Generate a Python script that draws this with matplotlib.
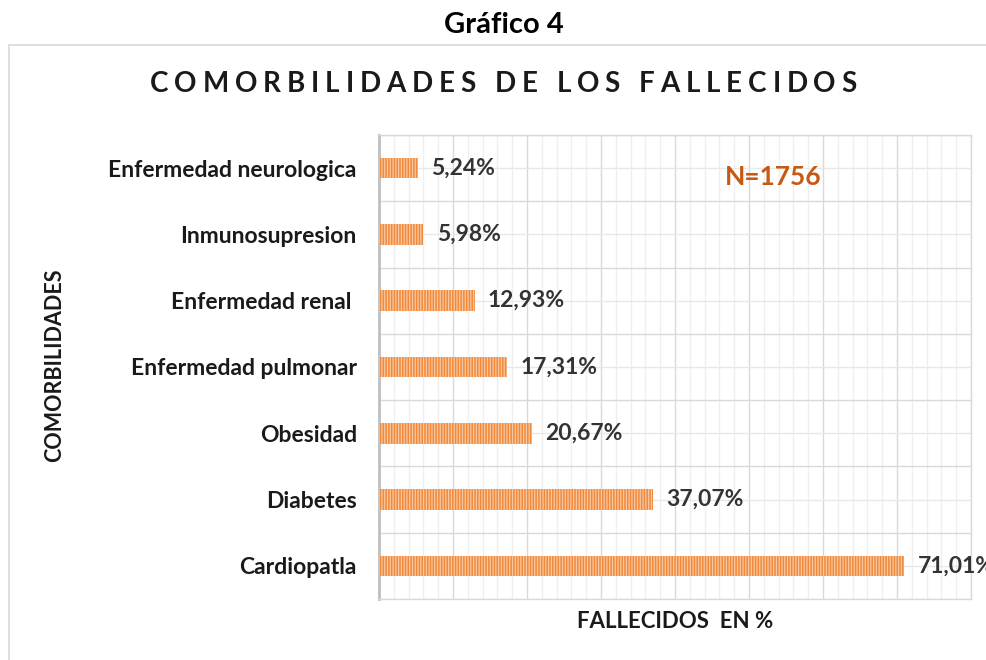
import numpy as np
import matplotlib.pyplot as plt
from matplotlib.patches import Rectangle
from matplotlib.ticker import MultipleLocator, FixedLocator

# data, bottom to top as in the chart
categories = ["Cardiopatla", "Diabetes", "Obesidad", "Enfermedad pulmonar",
              "Enfermedad renal ", "Inmunosupresion", "Enfermedad neurologica"]
values = [71.01, 37.07, 20.67, 17.31, 12.93, 5.98, 5.24]
value_labels = ["71,01%", "37,07%", "20,67%", "17,31%", "12,93%", "5,98%", "5,24%"]

plt.rcParams['font.family'] = ['Lato', 'DejaVu Sans']
plt.rcParams['hatch.linewidth'] = 0.9

fig = plt.figure(figsize=(9.87, 6.6), dpi=100)
ax = fig.add_axes([0.384, 0.0924, 0.5998, 0.7031])

# chart frame (runs off the right and bottom like the screenshot)
fig.patches.append(Rectangle((9/987, -0.1), 1.2, 1 - 45/660 + 0.1, transform=fig.transFigure,
                             fill=False, edgecolor='#D9D9D9', linewidth=1.2))

y = np.arange(len(categories))
ax.barh(y, values, height=0.31, color='#F08A3C', edgecolor='#F9C7A0', linewidth=0,
        hatch='||||||', zorder=3)

for yi, v, lab in zip(y, values, value_labels):
    ax.text(v + 1.8, yi, lab, va='center', ha='left', fontsize=16.5, fontweight='bold',
            color='#333333', zorder=4)

ax.set_xlim(0, 80)
ax.set_ylim(-0.5, len(categories) - 0.5)
ax.xaxis.set_major_locator(MultipleLocator(10))
ax.xaxis.set_minor_locator(MultipleLocator(2))
ax.set_yticks(y)
ax.set_yticklabels(categories, fontsize=16.5, fontweight='bold', color='#1a1a1a')
ax.yaxis.set_minor_locator(FixedLocator(np.arange(-0.5, len(categories), 1.0)))
ax.grid(which='major', axis='x', color='#D9D9D9', linewidth=1.0, zorder=0)
ax.grid(which='minor', axis='x', color='#EFEFEF', linewidth=0.9, zorder=0)
ax.grid(which='major', axis='y', color='#E8E8E8', linewidth=1.0, zorder=0)
ax.grid(which='minor', axis='y', color='#D9D9D9', linewidth=1.0, zorder=0)
ax.tick_params(which='both', length=0)
ax.tick_params(axis='y', pad=16)
ax.set_xticklabels([])
for s in ['top', 'right', 'bottom']:
    ax.spines[s].set_color('#D9D9D9')
    ax.spines[s].set_linewidth(1.0)
ax.spines['left'].set_color('#BFBFBF')
ax.spines['left'].set_linewidth(2.0)

ax.set_xlabel("FALLECIDOS  EN %", fontsize=16, fontweight='bold', color='#1a1a1a', labelpad=5)
fig.text(55/987, 1 - 365/660, "COMORBILIDADES", rotation=90, ha='center', va='center',
         fontsize=15.5, fontweight='bold', color='#1a1a1a')

ax.text(0.666, 0.909, "N=1756", transform=ax.transAxes, ha='center', va='center',
        fontsize=19, fontweight='bold', color='#C65A14', zorder=5)

# letter-spaced chart title: place each character with extra tracking
title = "COMORBILIDADES DE LOS FALLECIDOS"
title_left, title_right = 150, 857
renderer = fig.canvas.get_renderer()
widths = []
for ch in title:
    t = fig.text(0, 0, ch if ch != " " else "I", fontsize=20, fontweight='bold')
    widths.append(t.get_window_extent(renderer).width if ch != " " else 7)
    t.remove()
track = (title_right - title_left - sum(widths)) / (len(title) - 1)
xpos = title_left
for ch, w in zip(title, widths):
    if ch != " ":
        fig.text(xpos / 987, 1 - 84 / 660, ch, ha='left', va='center', fontsize=20,
                 fontweight='bold', color='#1a1a1a')
    xpos += w + track

fig.text(504/987, 1 - 25/660, "Gráfico 4", ha='center', va='center', fontsize=21,
         fontweight='bold', color='#000000')

fig.savefig("out.png", dpi=100)
